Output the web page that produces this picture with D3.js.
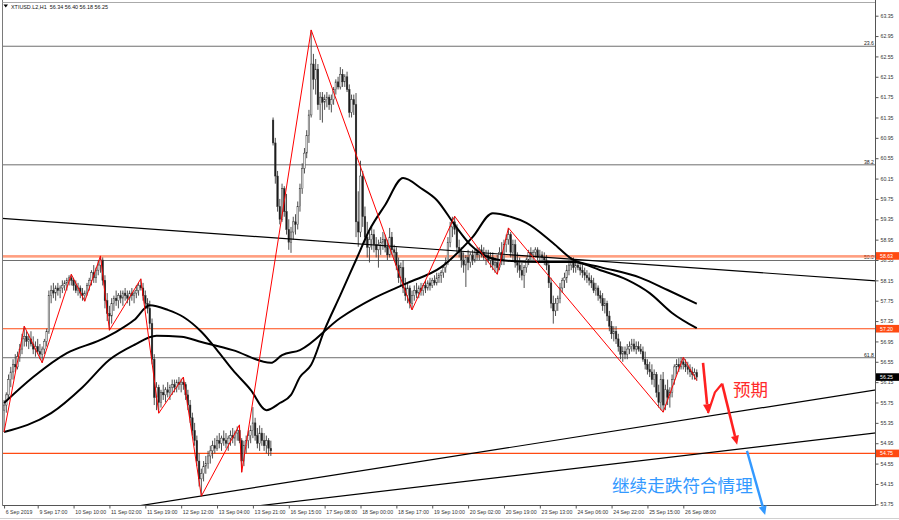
<!DOCTYPE html>
<html><head><meta charset="utf-8">
<script src="https://cdn.jsdelivr.net/npm/d3@7"></script>
<style>body{margin:0;background:#fff}svg{display:block}</style>
</head><body><svg id="c" width="899" height="520"></svg>
<script>
// ---- OHLC (H1 bars, index 0..309) ----
const open=[
55.60,55.70,55.90,56.20,56.35,56.50,56.45,56.65,56.80,57.00,
57.05,56.95,57.00,56.90,56.80,56.85,56.75,56.70,56.80,56.95,
57.15,57.85,57.95,57.90,58.00,57.95,58.00,58.05,58.10,58.15,
58.20,58.15,58.05,57.95,58.00,57.90,57.85,57.90,58.05,58.15,
58.30,58.20,58.35,58.45,58.55,58.15,57.75,57.50,57.45,57.70,
57.80,57.75,57.85,57.80,57.90,57.85,57.80,57.90,57.85,57.90,
57.95,58.05,58.00,57.85,57.70,57.60,57.30,56.60,55.85,56.05,
55.75,55.95,55.90,56.00,55.95,56.05,56.10,56.05,56.15,56.10,
56.15,56.10,55.90,55.70,55.45,55.20,55.00,54.60,54.25,54.35,
54.50,54.55,54.70,54.80,54.90,54.85,55.00,54.95,55.05,55.00,
54.95,55.05,55.10,55.05,55.15,55.20,55.00,54.60,54.90,55.00,
55.10,55.20,55.35,55.10,54.95,55.15,55.00,54.90,55.00,54.85,
61.30,60.85,60.20,59.60,59.35,59.95,59.50,59.15,58.90,59.10,
59.30,59.25,59.60,59.95,60.35,60.65,61.00,61.40,62.40,62.10,
62.30,61.60,61.75,61.65,61.70,61.75,61.60,61.70,61.90,62.05,
61.95,62.20,62.05,62.15,61.90,61.45,61.70,61.60,59.30,59.10,
60.20,59.40,59.00,58.80,58.95,59.05,58.85,58.75,58.85,58.90,
58.95,58.80,58.65,59.00,58.75,58.70,58.45,58.20,58.40,58.00,
57.85,58.00,57.70,57.85,57.95,57.90,58.00,57.95,58.05,58.00,
58.10,58.05,58.15,58.10,58.20,58.25,58.30,58.40,58.50,58.90,
59.20,59.30,59.15,58.80,58.70,58.55,58.45,58.60,58.50,58.65,
58.55,58.70,58.65,58.75,58.70,58.60,58.65,58.55,58.60,58.45,
58.50,58.40,58.70,58.55,58.85,58.95,59.05,58.70,58.85,58.50,
58.45,58.35,58.25,58.40,58.55,58.70,58.65,58.70,58.75,58.60,
58.65,58.60,58.55,58.45,58.10,57.70,57.55,57.70,57.80,58.00,
58.15,58.20,58.35,58.45,58.50,58.40,58.45,58.40,58.35,58.30,
58.25,58.20,58.15,58.10,57.95,58.00,57.85,57.80,57.65,57.70,
57.45,57.25,57.10,57.15,57.00,56.85,56.70,56.75,56.70,56.80,
56.85,56.90,56.80,56.85,56.80,56.75,56.60,56.50,56.40,56.35,
56.20,56.30,55.95,55.75,56.20,55.70,56.00,55.85,55.95,56.20,
56.45,56.50,56.45,56.55,56.50,56.45,56.40,56.35,56.30,56.34];
const high=[
55.80,55.95,56.30,56.45,56.60,56.70,56.75,56.90,57.10,57.25,
57.15,57.10,57.15,57.05,56.95,57.00,56.90,56.85,57.00,57.20,
57.95,58.05,58.10,58.05,58.10,58.05,58.15,58.15,58.20,58.25,
58.27,58.20,58.15,58.10,58.05,58.00,57.95,58.10,58.20,58.35,
58.45,58.40,58.55,58.63,58.60,58.25,57.90,57.65,57.80,57.85,
57.95,57.90,57.95,57.95,58.00,57.95,57.95,58.00,57.95,58.05,
58.10,58.18,58.10,57.95,57.80,57.75,57.40,56.70,56.15,56.10,
56.00,56.10,56.05,56.15,56.10,56.20,56.20,56.20,56.25,56.22,
56.25,56.15,56.00,55.80,55.55,55.35,55.10,54.75,54.45,54.60,
54.70,54.80,54.90,55.00,55.05,55.10,55.15,55.10,55.20,55.15,
55.10,55.20,55.25,55.20,55.28,55.31,55.05,55.00,55.10,55.20,
55.30,55.66,55.45,55.25,55.30,55.25,55.15,55.10,55.05,55.00,
61.35,60.95,60.30,59.75,60.05,60.00,59.85,59.35,59.20,59.40,
59.45,59.70,60.05,60.45,60.75,61.10,61.50,63.07,62.60,62.50,
62.40,61.85,61.85,61.80,61.85,61.80,61.80,61.95,62.10,62.15,
62.34,62.30,62.20,62.25,62.00,61.80,61.80,61.83,59.90,60.50,
60.30,59.60,59.30,59.10,59.20,59.15,59.00,58.95,59.00,59.10,
59.05,58.95,59.18,59.10,58.85,58.80,58.60,58.50,58.55,58.20,
58.10,58.05,57.95,58.05,58.10,58.05,58.10,58.10,58.15,58.15,
58.20,58.20,58.25,58.30,58.30,58.35,58.45,58.60,59.00,59.30,
59.40,59.41,59.25,58.95,58.80,58.70,58.65,58.75,58.70,58.75,
58.75,58.80,58.80,58.85,58.80,58.75,58.75,58.70,58.70,58.60,
58.65,58.80,58.90,58.95,59.05,59.18,59.10,58.95,58.95,58.70,
58.60,58.50,58.45,58.60,58.75,58.80,58.75,58.80,58.80,58.75,
58.72,58.70,58.65,58.55,58.20,57.85,57.80,57.85,58.10,58.20,
58.30,58.45,58.55,58.60,58.60,58.55,58.55,58.50,58.45,58.40,
58.35,58.30,58.25,58.20,58.10,58.05,57.95,57.90,57.80,57.75,
57.55,57.35,57.25,57.25,57.10,56.95,56.85,56.85,56.90,56.95,
57.00,57.00,56.95,56.95,56.90,56.85,56.75,56.60,56.55,56.50,
56.40,56.35,56.10,56.30,56.35,56.10,56.20,56.05,56.30,56.50,
56.60,56.62,56.64,56.64,56.60,56.55,56.50,56.45,56.42,56.40];
const low=[
55.17,55.55,55.80,56.05,56.20,56.35,56.40,56.55,56.70,56.85,
56.85,56.80,56.85,56.70,56.65,56.70,56.60,56.53,56.70,56.85,
57.10,57.70,57.80,57.75,57.85,57.80,57.90,57.95,57.95,58.05,
58.05,57.95,57.90,57.85,57.80,57.75,57.74,57.85,57.95,58.05,
58.10,58.10,58.25,58.30,58.05,57.60,57.35,57.17,57.30,57.55,
57.65,57.60,57.70,57.65,57.75,57.70,57.65,57.75,57.70,57.80,
57.85,57.95,57.75,57.60,57.50,57.20,56.50,55.70,55.60,55.54,
55.65,55.80,55.75,55.85,55.80,55.90,55.95,55.95,56.00,55.95,
56.00,55.80,55.60,55.35,55.10,54.90,54.50,54.10,53.91,54.20,
54.35,54.45,54.55,54.65,54.75,54.80,54.85,54.80,54.90,54.85,
54.80,54.90,54.95,54.90,55.00,54.95,54.38,54.50,54.75,54.85,
54.95,55.05,55.00,54.85,54.80,54.90,54.80,54.75,54.70,54.70,
60.80,60.05,59.50,59.25,59.30,59.40,59.05,58.75,58.69,58.95,
59.05,59.15,59.50,59.85,60.25,60.55,60.85,61.35,61.90,61.80,
61.50,61.30,61.25,61.50,61.55,61.50,61.45,61.60,61.80,61.90,
61.90,61.95,61.95,61.85,61.35,61.35,61.40,59.00,58.81,59.00,
59.20,58.85,58.60,58.50,58.75,58.70,58.60,58.40,58.65,58.75,
58.70,58.55,58.60,58.65,58.55,58.35,58.10,58.05,57.90,57.75,
57.70,57.60,57.57,57.75,57.80,57.80,57.85,57.85,57.90,57.95,
57.95,58.00,58.05,58.05,58.10,58.10,58.20,58.30,58.45,58.80,
59.00,59.05,58.70,58.60,58.40,58.30,58.02,58.35,58.40,58.45,
58.50,58.55,58.55,58.60,58.55,58.45,58.50,58.40,58.35,58.30,
58.27,58.35,58.45,58.45,58.70,58.85,58.60,58.55,58.40,58.30,
58.20,58.15,58.00,58.30,58.45,58.55,58.55,58.60,58.55,58.50,
58.50,58.45,58.35,58.00,57.60,57.30,57.45,57.55,57.70,57.90,
58.00,58.10,58.25,58.35,58.30,58.30,58.35,58.25,58.20,58.15,
58.10,58.05,58.00,57.90,57.85,57.75,57.70,57.55,57.50,57.35,
57.15,57.00,56.95,56.90,56.75,56.60,56.55,56.60,56.60,56.70,
56.75,56.75,56.70,56.75,56.70,56.55,56.40,56.30,56.25,56.10,
56.05,55.85,55.65,55.60,55.56,55.60,55.70,55.65,55.85,56.10,
56.30,56.35,56.40,56.40,56.35,56.30,56.25,56.20,56.20,56.18];
const close=[
55.70,55.90,56.20,56.35,56.50,56.45,56.65,56.80,57.00,57.05,
56.95,57.00,56.90,56.80,56.85,56.75,56.70,56.80,56.95,57.15,
57.85,57.95,57.90,58.00,57.95,58.00,58.05,58.10,58.15,58.20,
58.15,58.05,57.95,58.00,57.90,57.85,57.90,58.05,58.15,58.30,
58.20,58.35,58.45,58.55,58.15,57.75,57.50,57.45,57.70,57.80,
57.75,57.85,57.80,57.90,57.85,57.80,57.90,57.85,57.90,57.95,
58.05,58.00,57.85,57.70,57.60,57.30,56.60,55.85,56.05,55.75,
55.95,55.90,56.00,55.95,56.05,56.10,56.05,56.15,56.10,56.15,
56.10,55.90,55.70,55.45,55.20,55.00,54.60,54.25,54.35,54.50,
54.55,54.70,54.80,54.90,54.85,55.00,54.95,55.05,55.00,54.95,
55.05,55.10,55.05,55.15,55.20,55.00,54.60,54.90,55.00,55.10,
55.20,55.35,55.10,54.95,55.15,55.00,54.90,55.00,54.85,54.80,
60.85,60.20,59.60,59.35,59.95,59.50,59.15,58.90,59.10,59.30,
59.25,59.60,59.95,60.35,60.65,61.00,61.40,62.40,62.10,62.30,
61.60,61.75,61.65,61.70,61.75,61.60,61.70,61.90,62.05,61.95,
62.20,62.05,62.15,61.90,61.45,61.70,61.60,59.30,59.10,60.20,
59.40,59.00,58.80,58.95,59.05,58.85,58.75,58.85,58.90,58.95,
58.80,58.65,59.00,58.75,58.70,58.45,58.20,58.40,58.00,57.85,
58.00,57.70,57.85,57.95,57.90,58.00,57.95,58.05,58.00,58.10,
58.05,58.15,58.10,58.20,58.25,58.30,58.40,58.50,58.90,59.20,
59.30,59.15,58.80,58.70,58.55,58.45,58.60,58.50,58.65,58.55,
58.70,58.65,58.75,58.70,58.60,58.65,58.55,58.60,58.45,58.50,
58.40,58.70,58.55,58.85,58.95,59.05,58.70,58.85,58.50,58.45,
58.35,58.25,58.40,58.55,58.70,58.65,58.70,58.75,58.60,58.65,
58.60,58.55,58.45,58.10,57.70,57.55,57.70,57.80,58.00,58.15,
58.20,58.35,58.45,58.50,58.40,58.45,58.40,58.35,58.30,58.25,
58.20,58.15,58.10,57.95,58.00,57.85,57.80,57.65,57.70,57.45,
57.25,57.10,57.15,57.00,56.85,56.70,56.75,56.70,56.80,56.85,
56.90,56.80,56.85,56.80,56.75,56.60,56.50,56.40,56.35,56.20,
56.30,55.95,55.75,56.20,55.70,56.00,55.85,55.95,56.20,56.45,
56.50,56.45,56.55,56.50,56.45,56.40,56.35,56.30,56.34,56.25];

// ---- axis labels ----
const timeLabels=["6 Sep 2019","9 Sep 17:00","10 Sep 10:00","11 Sep 02:00","11 Sep 19:00","12 Sep 12:00","13 Sep 04:00","13 Sep 21:00","16 Sep 15:00","17 Sep 08:00","18 Sep 00:00","18 Sep 17:00","19 Sep 10:00","20 Sep 02:00","20 Sep 19:00","23 Sep 13:00","24 Sep 06:00","24 Sep 22:00","25 Sep 15:00","26 Sep 08:00"];
const timeLabelBars=[0,15,31,47,63,79,95,111,127,143,159,175,191,207,223,239,255,271,287,303];
const priceTicks=[63.35,62.95,62.55,62.15,61.75,61.35,60.95,60.55,60.15,59.75,59.35,58.95,58.55,58.15,57.75,57.35,56.95,56.55,56.15,55.75,55.35,54.95,54.55,54.15,53.75];

// ---- overlays ----
const zigzag=[[0,55.17],[9,57.25],[17,56.53],[30,58.27],[36,57.74],[43,58.63],[47,57.17],[61,58.18],[69,55.54],[80,56.25],[88,53.91],[105,55.31],[106,54.38],[137,63.07],[182,57.57],[201,59.41],[220,58.27],[225,59.18],[294,55.56],[303,56.64],[309,56.18]];
const maFast=[[0,55.74],[13,56.25],[28,56.72],[43,56.98],[50,57.14],[58,57.37],[65,57.66],[73,57.57],[80,57.43],[88,57.14],[95,56.78],[102,56.39],[110,56.00],[117,55.60],[123,55.74],[128,55.90],[132,56.25],[137,56.49],[143,57.18],[150,57.86],[157,58.55],[163,59.14],[170,59.63],[178,60.16],[186,59.96],[193,59.73],[201,59.24],[208,58.85],[221,58.55],[239,58.51],[254,58.51],[266,58.35],[278,58.16],[288,57.90],[298,57.51],[309,57.21]];
const maSlow=[[0,55.17],[21,55.54],[35,56.05],[47,56.59],[58,56.88],[68,57.06],[79,57.04],[88,56.94],[102,56.78],[119,56.53],[124,56.68],[132,56.78],[150,57.41],[165,57.80],[180,58.10],[195,58.41],[209,59.00],[218,59.47],[226,59.40],[233,59.28],[245,58.88],[254,58.55],[266,58.41],[284,58.20],[296,57.96],[309,57.69]];
const fibNames=["23.6","38.2","50.0","61.8"];
const fibPrices=[62.75,60.42,58.54,56.63];
const orangeLevels=[58.63,57.20,54.75];
const lastPrice=56.25;
const trendDown=[[-2,59.37],[392,58.13]];
const trendUp1=[[40,53.58],[392,56.02]];
const trendUp2=[[100,53.65],[392,55.17]];
const redArrow1=[[311.8,56.53],[314.0,55.54]];
const redLink=[[314.0,55.54],[317.1,55.95],[320.3,56.12]];
const redArrow2=[[320.3,56.12],[327.0,54.92]];
const blueArrow=[[331.4,54.80],[339.5,53.54]];
const noteRed={text:"预期",bar:325.2,price:55.88};
const noteBlue={text:"继续走跌符合情理",bar:271.2,price:53.99};
const header="XTIUSD.L2,H1  56.34 56.40 56.18 56.25";

// ---- drawing ----
const svg=d3.select("#c");
const L=2.5,R=875.5,T=2.5,B=505.5;
const x=d3.scaleLinear().domain([0,309]).range([4.07,4.07+309*2.2417]);
const y=d3.scaleLinear().domain([53.75,63.35]).range([504.3,15.7]);
const font="'Liberation Sans',Arial,sans-serif";

svg.append("rect").attr("width",899).attr("height",520).attr("fill","#fff");
svg.append("defs").append("clipPath").attr("id","clip").append("rect")
  .attr("x",L).attr("y",T).attr("width",R-L).attr("height",B-T);
const g=svg.append("g").attr("clip-path","url(#clip)");
const line=d3.line().x(d=>x(d[0])).y(d=>y(d[1]));

// fib + horizontal levels
fibPrices.forEach((p,i)=>{
  g.append("line").attr("x1",L).attr("x2",R).attr("y1",y(p)).attr("y2",y(p))
    .attr("stroke","#6e6e6e").attr("stroke-width",1);
  g.append("text").attr("x",R-1.5).attr("y",y(p)-1.2).attr("text-anchor","end")
    .attr("font-family",font).attr("font-size",5.2).attr("fill","#222").text(fibNames[i]);
});
orangeLevels.forEach((p,i)=>{
  if(i===0){
    g.append("line").attr("x1",L).attr("x2",R).attr("y1",y(p)+1.4).attr("y2",y(p)+1.4)
      .attr("stroke","#ffb59a").attr("stroke-width",1);
  }
  g.append("line").attr("x1",L).attr("x2",R).attr("y1",y(p)).attr("y2",y(p))
    .attr("stroke","#ff4a12").attr("stroke-width",1.1);
});

// candles
const idx=d3.range(close.length);
g.selectAll("line.wick").data(idx).join("line").attr("class","wick")
  .attr("x1",i=>x(i)).attr("x2",i=>x(i))
  .attr("y1",i=>y(high[i])).attr("y2",i=>y(low[i]))
  .attr("stroke","#3c3c3c").attr("stroke-width",0.9);
g.selectAll("rect.body").data(idx).join("rect").attr("class","body")
  .attr("x",i=>x(i)-0.8).attr("width",1.6)
  .attr("y",i=>y(Math.max(open[i],close[i])))
  .attr("height",i=>Math.max(0.7,Math.abs(y(open[i])-y(close[i]))))
  .attr("fill",i=>close[i]>=open[i]?"#e8e8e8":"#1a1a1a")
  .attr("stroke","#333").attr("stroke-width",0.45);

// trendlines
[trendDown,trendUp1,trendUp2].forEach(t=>{
  g.append("path").attr("d",line(t)).attr("fill","none").attr("stroke","#000").attr("stroke-width",1.2);
});
// moving averages
const smooth=d3.line().x(d=>x(d[0])).y(d=>y(d[1])).curve(d3.curveMonotoneX);
[maFast,maSlow].forEach(m=>{
  g.append("path").attr("d",smooth(m)).attr("fill","none").attr("stroke","#000").attr("stroke-width",2);
});
// zigzag
g.append("path").attr("d",line(zigzag)).attr("fill","none").attr("stroke","#ff0000").attr("stroke-width",1);

// axes frame
const frame=svg.append("g").attr("stroke","#7a7a7a").attr("stroke-width",1);
frame.append("line").attr("x1",L).attr("x2",L).attr("y1",0).attr("y2",B);
frame.append("line").attr("x1",L).attr("x2",R).attr("y1",T).attr("y2",T).attr("stroke","#aaa");
frame.append("line").attr("x1",R).attr("x2",R).attr("y1",0).attr("y2",B+0.5).attr("stroke","#555");
frame.append("line").attr("x1",L).attr("x2",R).attr("y1",B).attr("y2",B).attr("stroke","#555");
frame.append("line").attr("x1",0).attr("x2",899).attr("y1",518.5).attr("y2",518.5).attr("stroke","#d0d0d0");

// y axis
const ya=svg.append("g").attr("transform",`translate(${R},0)`)
  .call(d3.axisRight(y).tickValues(priceTicks).tickFormat(d3.format(".2f")).tickSize(3).tickPadding(2));
ya.select(".domain").remove();
ya.selectAll("line").attr("stroke","#555");
ya.selectAll("text").attr("font-family",font).attr("font-size",5.2).attr("fill","#333");

// x axis
const xa=svg.append("g").attr("transform",`translate(0,${B})`)
  .call(d3.axisBottom(x).tickValues(timeLabelBars).tickFormat((d,i)=>timeLabels[i]).tickSize(3).tickPadding(2));
xa.select(".domain").remove();
xa.selectAll("line").attr("stroke","#555");
xa.selectAll("text").attr("font-family",font).attr("font-size",5.2).attr("fill","#333")
  .attr("text-anchor","start").attr("dx",1.2);

// price boxes
function box(p,bg){
  const yy=y(p);
  svg.append("rect").attr("x",R+0.5).attr("y",yy-3.8).attr("width",23).attr("height",7.6).attr("fill",bg);
  svg.append("text").attr("x",R+4.5).attr("y",yy+1.9).attr("font-family",font).attr("font-size",5.2)
    .attr("fill","#fff").text(d3.format(".2f")(p));
}
orangeLevels.forEach(p=>box(p,"#ff4a12"));
box(lastPrice,"#000");

// header
svg.append("path").attr("d","M3.5,4.5 L8,4.5 L5.75,7.5 Z").attr("fill","#000");
svg.append("text").attr("x",11).attr("y",8.6).attr("font-family",font).attr("font-size",5.4)
  .attr("fill","#111").style("white-space","pre").text(header);

// annotations
function arrow(pts,color,w,head){
  const p=pts.map(d=>[x(d[0]),y(d[1])]);
  const a=p[p.length-2], b=p[p.length-1];
  const dx=b[0]-a[0], dy=b[1]-a[1], len=Math.hypot(dx,dy), ux=dx/len, uy=dy/len;
  const base=[b[0]-ux*head, b[1]-uy*head];
  const shaft=p.slice(0,-1).concat([base]);
  svg.append("path").attr("d",d3.line()(shaft)).attr("fill","none").attr("stroke",color)
    .attr("stroke-width",w).attr("stroke-linejoin","round");
  const hw=head*0.45;
  svg.append("path").attr("d",`M${b[0]},${b[1]} L${base[0]-uy*hw},${base[1]+ux*hw} L${base[0]+uy*hw},${base[1]-ux*hw} Z`)
    .attr("fill",color);
}
arrow(redArrow1,"#ff2020",2.6,9);
svg.append("path").attr("d",line(redLink)).attr("fill","none").attr("stroke","#ff2020").attr("stroke-width",2.2).attr("stroke-linejoin","round");
arrow(redArrow2,"#ff2020",2.6,9);
arrow(blueArrow,"#3399ff",2.4,9);

svg.append("text").attr("x",x(noteRed.bar)).attr("y",y(noteRed.price))
  .attr("font-family","'Noto Sans CJK SC',sans-serif").attr("font-size",17.5).attr("fill","#ff2a2a").text(noteRed.text);
svg.append("text").attr("x",x(noteBlue.bar)).attr("y",y(noteBlue.price))
  .attr("font-family","'Noto Sans CJK SC',sans-serif").attr("font-size",17.6).attr("fill","#3399ff").text(noteBlue.text);
</script>
</body></html>
